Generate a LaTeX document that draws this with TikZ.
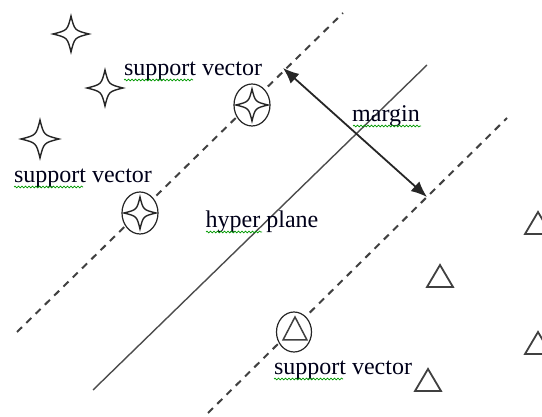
\documentclass[tikz,border=0pt]{standalone}
\usepackage{fontspec}
\setmainfont{Liberation Serif}
\usetikzlibrary{arrows.meta,decorations.pathmorphing,shapes.geometric}
\tikzset{
  lbl/.style={inner sep=0pt,anchor=base,font=\fontsize{24}{28}\selectfont,text=black!90!blue},
  dashline/.style={draw=black!75,line width=2pt,dash pattern=on 7pt off 6pt},
  hyper/.style={draw=black!70,line width=1.4pt},
  tri/.style={draw=black!75,line width=1.8pt,line join=miter},
  ring/.style={draw=black!85,line width=1.2pt,fill=white},
  squig/.style={draw=green!60!black,line width=0.7pt,decorate,decoration={snake,amplitude=0.9pt,segment length=3.5pt}},
  pics/fourstar/.style={code={
    \def\r{#1}
    \draw[line width=1.4pt,draw=black!85,fill=white]
      (0,-\r) .. controls (0.2*\r,-0.2*\r) .. (\r,0)
      .. controls (0.2*\r,0.2*\r) .. (0,\r)
      .. controls (-0.2*\r,0.2*\r) .. (-\r,0)
      .. controls (-0.2*\r,-0.2*\r) .. cycle;
  }},
  pics/triang/.style={code={
    \draw[tri] (0,-11) -- (13,11) -- (-13,11) -- cycle;
  }},
}
\begin{document}
\begin{tikzpicture}[x=1pt,y=-1pt]
\useasboundingbox (0,0) rectangle (542,417);
% lines
\coordinate (d1a) at (17,332);
\coordinate (d1b) at (343,13);
\coordinate (sa) at (93,390);
\coordinate (sb) at (427,65);
\coordinate (d2a) at (208,413);
\coordinate (d2b) at (507,118);
\draw[dashline] (d1a) -- (d1b);
\draw[hyper] (sa) -- (sb);
\draw[dashline] (d2a) -- (d2b);
% margin arrow
\coordinate (m1) at (283,68);
\coordinate (m2) at (427,197);
\draw[line width=1.8pt,black!85,{Latex[length=16pt,width=13pt]}-{Latex[length=16pt,width=13pt]}] (m1) -- (m2);
% stars
\pic at (71,34) {fourstar=18};
\pic at (105,88) {fourstar=18};
\pic at (40,139) {fourstar=19};
% circled stars
\node[ring,ellipse,minimum width=36pt,minimum height=42pt,inner sep=0pt] (sv1) at (252,105) {};
\pic at (252,105) {fourstar=16};
\node[ring,ellipse,minimum width=36pt,minimum height=42pt,inner sep=0pt] (sv2) at (140,213) {};
\pic at (140,213) {fourstar=16};
% circled triangle
\node[ring,ellipse,minimum width=35pt,minimum height=40pt,inner sep=0pt] (sv3) at (294,332) {};
\draw[tri,line width=1.5pt] (295,317) -- (307,340) -- (283,340) -- cycle;
% triangles
\pic at (538,223) {triang};
\pic at (440,276) {triang};
\pic at (538,343) {triang};
\pic at (428,380) {triang};
% labels
\node[lbl] (t1) at (193,76) {support vector};
\node[lbl] (t2) at (83,183) {support vector};
\node[lbl] (t3) at (343,375) {support vector};
\node[lbl] (t4) at (386,122) {margin};
\node[lbl] (t5) at (262,228) {hyper plane};
% spell-check squiggles
\draw[squig] (124,80) -- (193,80);
\draw[squig] (14,187) -- (83,187);
\draw[squig] (274,379) -- (343,379);
\draw[squig] (353,126) -- (421,126);
\draw[squig] (206,232) -- (262,232);
\end{tikzpicture}
\end{document}
